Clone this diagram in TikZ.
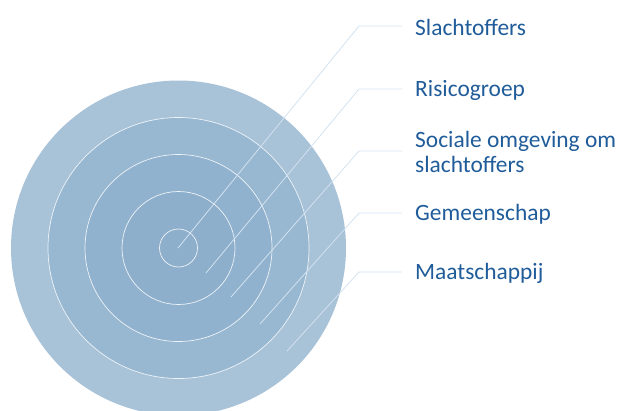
\documentclass[tikz,border=0pt]{standalone}
\usepackage{fontspec}
\setmainfont{Carlito}
\usetikzlibrary{positioning}
\definecolor{ringA}{HTML}{A8C2D8}
\definecolor{ringB}{HTML}{98B8D2}
\definecolor{ringC}{HTML}{90B2CE}
\definecolor{ringD}{HTML}{8DAFCC}
\definecolor{leadblue}{HTML}{D3E2F0}
\definecolor{textblue}{HTML}{1F5C99}

\begin{document}
\begin{tikzpicture}[x=1bp,y=-1bp]
  \tikzset{ring/.style = {circle, draw=white!85!ringD, line width=0.7pt, inner sep=0pt},
           leader/.style = {draw=leadblue, line width=0.8pt, shorten >=13bp},
           tag/.style = {anchor=west, inner sep=0pt, text=textblue, align=left,
                         font=\fontsize{23.5}{25}\selectfont}}
  \useasboundingbox (0,0) rectangle (620,410);
  \clip (0,0) rectangle (620,410);
  % rings, from outside in
  \node[ring, draw=none, fill=ringA, minimum size=335bp] (maat) at (178.5,248) {};
  \node[ring, fill=ringB, minimum size=261bp] (gem) at (maat.center) {};
  \node[ring, fill=ringC, minimum size=187bp] (soc) at (maat.center) {};
  \node[ring, fill=ringD, minimum size=113bp] (risi) at (maat.center) {};
  \node[ring, fill=ringD, minimum size=38bp] (slacht) at (maat.center) {};
  % labels
  \node[tag] (t1) at (415,27) {Slachtoffers};
  \node[tag] (t2) at (415,90) {Risicogroep};
  \node[tag] (t3) at (415,152) {Sociale omgeving om\\slachtoffers};
  \node[tag] (t4) at (415,214) {Gemeenschap};
  \node[tag] (t5) at (415,273) {Maatschappij};
  % leaders
  \coordinate (p1) at (178,248);  \coordinate (k1) at (359,26);
  \coordinate (p2) at (206,273);  \coordinate (k2) at (359,89);
  \coordinate (p3) at (231,297);  \coordinate (k3) at (359,151);
  \coordinate (p4) at (260,324);  \coordinate (k4) at (359,213);
  \coordinate (p5) at (287,351);  \coordinate (k5) at (359,272);
  \foreach \i in {1,...,5}
    \draw[leader] (p\i) -- (k\i) -- (t\i.west|-k\i);
\end{tikzpicture}
\end{document}
